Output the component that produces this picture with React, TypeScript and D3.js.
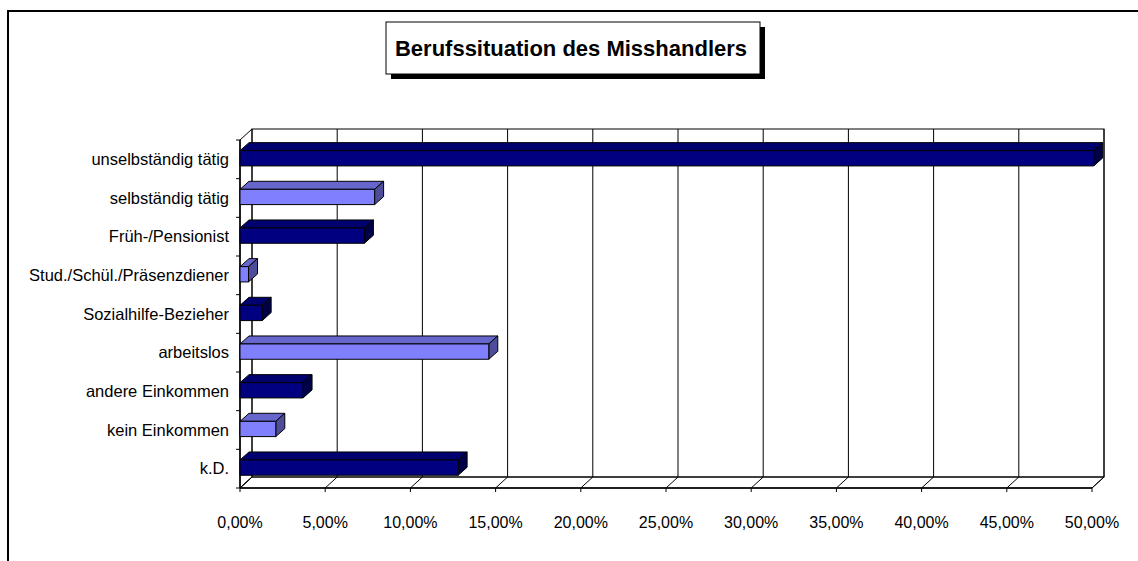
import React from "react";
import * as d3 from "d3";

const categories = [
  "unselbständig tätig",
  "selbständig tätig",
  "Früh-/Pensionist",
  "Stud./Schül./Präsenzdiener",
  "Sozialhilfe-Bezieher",
  "arbeitslos",
  "andere Einkommen",
  "kein Einkommen",
  "k.D.",
];
const values = [50.1, 7.9, 7.3, 0.5, 1.3, 14.6, 3.7, 2.1, 12.8];
const tickValues = [0, 5, 10, 15, 20, 25, 30, 35, 40, 45, 50];
const title = "Berufssituation des Misshandlers";

const W = 1138;
const H = 561;
const DX = 12;
const DY = 11;
const BDX = 9;
const BDY = 8;

const darkPal = { front: "#000080", top: "#00006E", side: "#000048" };
const lightPal = { front: "#8080FF", top: "#6666CC", side: "#4D4D99" };

export default function App() {
  const x = d3.scaleLinear().domain([0, 50]).range([240, 1092]);
  const y = d3.scaleBand().domain(categories).range([140, 488]).padding(0);
  const fmt = (v: number) => v.toFixed(2).replace(".", ",") + "%";
  const x0 = x(0);
  const yTop = 140;
  const yBot = 488;
  const font = "'Liberation Sans', Arial, sans-serif";

  return (
    <svg
      width={W}
      height={H}
      style={{ position: "absolute", left: 0, top: 0, background: "#fff" }}
    >
      {/* outer frame */}
      <path d={`M8,${H + 5} L8,11 L${W + 5},11`} fill="none" stroke="#000" strokeWidth={2} />

      {/* title */}
      <rect x={391} y={27} width={374} height={52} fill="#000" />
      <rect x={386} y={22} width={374} height={52} fill="#fff" stroke="#000" strokeWidth={1} />
      <text
        x={571}
        y={56}
        textAnchor="middle"
        fontFamily={font}
        fontWeight="bold"
        fontSize={22}
        fill="#000"
      >
        {title}
      </text>

      {/* back wall */}
      <rect
        x={x0 + DX}
        y={yTop - DY}
        width={x(50) - x0}
        height={yBot - yTop}
        fill="none"
        stroke="#000"
        strokeWidth={1}
      />
      {/* gridlines on back wall */}
      {tickValues.slice(1).map((t) => (
        <line
          key={"g" + t}
          x1={x(t) + DX}
          x2={x(t) + DX}
          y1={yTop - DY}
          y2={yBot - DY}
          stroke="#000"
          strokeWidth={1}
        />
      ))}
      {/* side wall (left) */}
      <polygon
        points={`${x0},${yTop} ${x0 + DX},${yTop - DY} ${x0 + DX},${yBot - DY} ${x0},${yBot}`}
        fill="none"
        stroke="#000"
        strokeWidth={1}
      />
      {/* floor */}
      <polygon
        points={`${x0},${yBot} ${x(50)},${yBot} ${x(50) + DX},${yBot - DY} ${x0 + DX},${yBot - DY}`}
        fill="none"
        stroke="#000"
        strokeWidth={1}
      />
      {tickValues.map((t) => (
        <g key={"t" + t}>
          <line x1={x(t)} x2={x(t) + DX} y1={yBot} y2={yBot - DY} stroke="#000" strokeWidth={1} />
          <line x1={x(t)} x2={x(t)} y1={yBot} y2={yBot + 4} stroke="#000" strokeWidth={1} />
          <text
            x={x(t)}
            y={528}
            textAnchor="middle"
            fontFamily={font}
            fontSize={16}
            fill="#000"
          >
            {fmt(t)}
          </text>
        </g>
      ))}

      {/* category axis ticks */}
      {d3.range(categories.length + 1).map((i) => {
        const yy = yTop + i * y.bandwidth();
        return <line key={"c" + i} x1={x0 - 4} x2={x0} y1={yy} y2={yy} stroke="#000" strokeWidth={1} />;
      })}
      <line x1={x0} x2={x0} y1={yTop} y2={yBot} stroke="#000" strokeWidth={1.5} />
      <line x1={x0} x2={x(50)} y1={yBot} y2={yBot} stroke="#000" strokeWidth={1.5} />

      {/* category labels */}
      {categories.map((c) => (
        <text
          key={"l" + c}
          x={229}
          y={(y(c) as number) + y.bandwidth() / 2 + 5.5}
          textAnchor="end"
          fontFamily={font}
          fontSize={16.5}
          fill="#000"
        >
          {c}
        </text>
      ))}

      {/* bars */}
      {categories.map((c, i) => {
        const pal = i % 2 === 0 ? darkPal : lightPal;
        const cy = (y(c) as number) + y.bandwidth() / 2;
        const t = cy - 8.7;
        const b = cy + 6.6;
        const xv = x(values[i]);
        return (
          <g key={"b" + c} stroke="#000" strokeWidth={1} strokeLinejoin="round">
            <polygon
              points={`${x0},${t} ${x0 + BDX},${t - BDY} ${xv + BDX},${t - BDY} ${xv},${t}`}
              fill={pal.top}
            />
            <polygon
              points={`${xv},${t} ${xv + BDX},${t - BDY} ${xv + BDX},${b - BDY} ${xv},${b}`}
              fill={pal.side}
            />
            <rect x={x0} y={t} width={xv - x0} height={b - t} fill={pal.front} />
          </g>
        );
      })}
    </svg>
  );
}
